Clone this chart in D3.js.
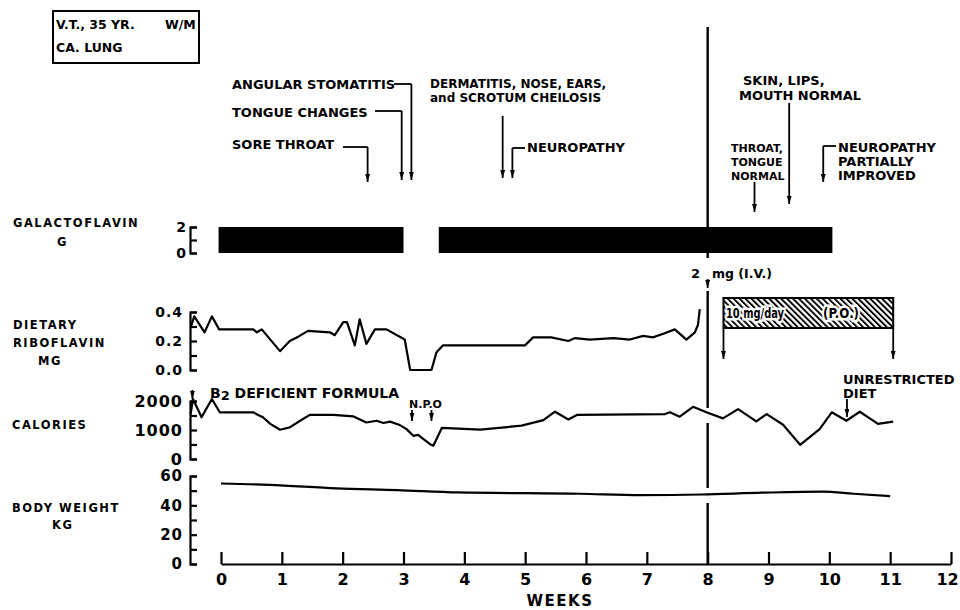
<!DOCTYPE html>
<html>
<head>
<meta charset="utf-8">
<script src="https://cdn.jsdelivr.net/npm/d3@7"></script>
<style>
  body { margin: 0; background: #fff; }
  svg text { font-family: "DejaVu Sans", sans-serif; font-weight: bold; fill: #000; }
</style>
</head>
<body>
<svg id="chart"></svg>
<script>
// week axis
const weekTicks = [0, 1, 2, 3, 4, 5, 6, 7, 8, 9, 10, 11, 12];
const weekLabels = ["0", "1", "2", "3", "4", "5", "6", "7", "8", "9", "10", "11", "12"];

// galactoflavin, g/day
const galStart = [-0.04, 3.58];
const galEnd = [3.00, 10.05];
const galDose = [2, 2];

// dietary riboflavin, mg
const riboWeeks = [-0.50, -0.44, -0.27, -0.15, -0.03, 0.53, 0.59, 0.67, 0.97, 1.13,
  1.27, 1.43, 1.79, 1.87, 2.01, 2.07, 2.20, 2.28, 2.39, 2.53,
  2.72, 3.02, 3.11, 3.46, 3.54, 3.65, 4.26, 5.00, 5.13, 5.43,
  5.71, 5.82, 6.06, 6.45, 6.72, 6.94, 7.10, 7.27, 7.46, 7.65,
  7.79, 7.84, 7.87];
const riboMg = [0.29, 0.37, 0.26, 0.37, 0.28, 0.28, 0.26, 0.28, 0.13, 0.20,
  0.23, 0.27, 0.26, 0.24, 0.33, 0.33, 0.17, 0.35, 0.18, 0.28,
  0.28, 0.21, 0.00, 0.00, 0.12, 0.17, 0.17, 0.17, 0.225, 0.225,
  0.20, 0.22, 0.21, 0.22, 0.21, 0.235, 0.225, 0.25, 0.28, 0.21,
  0.26, 0.31, 0.42];

// calories
const calWeeks = [-0.50, -0.46, -0.32, -0.15, -0.02, 0.53, 0.61, 0.69, 0.81, 0.97,
  1.13, 1.30, 1.46, 1.85, 2.17, 2.39, 2.56, 2.67, 2.78, 2.94,
  3.05, 3.16, 3.24, 3.43, 3.49, 3.63, 4.26, 4.94, 5.30, 5.49,
  5.71, 5.85, 7.30, 7.38, 7.54, 7.76, 7.98, 8.25, 8.50, 8.80,
  8.97, 9.24, 9.52, 9.84, 10.04, 10.28, 10.50, 10.80, 11.05];
const calKcal = [1550, 2070, 1440, 2070, 1610, 1610, 1520, 1440, 1210, 1010,
  1090, 1320, 1520, 1520, 1470, 1260, 1320, 1240, 1290, 1170,
  1030, 800, 830, 520, 460, 1070, 1010, 1150, 1340, 1630,
  1360, 1520, 1550, 1610, 1460, 1800, 1610, 1400, 1720, 1300,
  1550, 1180, 490, 1030, 1610, 1320, 1630, 1210, 1290];

// body weight, kg
const wtWeeks = [0, 0.8, 1.9, 2.9, 3.9, 5.9, 6.9, 7.9, 8.9, 9.9, 10.4, 11.0];
const wtKg = [54.9, 54.0, 51.6, 50.4, 48.8, 47.9, 47.0, 47.4, 48.6, 49.3, 47.9, 46.3];

// clinical events
const eventNames = ["SORE THROAT", "TONGUE CHANGES", "ANGULAR STOMATITIS",
  "DERMATITIS, NOSE, EARS,|and SCROTUM CHEILOSIS", "NEUROPATHY",
  "THROAT,|TONGUE|NORMAL", "SKIN, LIPS,|MOUTH NORMAL", "NEUROPATHY|PARTIALLY|IMPROVED"];
const eventWeeks = [2.41, 2.97, 3.13, 4.63, 4.79, 8.77, 9.34, 9.90];

const ivWeek = 8;
const oralStart = 8.26, oralEnd = 11.05;
const formulaStart = -0.47;
const npoWeeks = [3.14, 3.46];
const dietWeek = 10.29;

const panelLabels = [["GALACTOFLAVIN", "G"], ["DIETARY", "RIBOFLAVIN", "MG"], ["CALORIES"], ["BODY WEIGHT", "KG"]];

const width = 960, height = 610;
const svg = d3.select('#chart')
  .attr('width', width)
  .attr('height', height)
  .style('background-color', '#fff');

const defs = svg.append('defs');
defs.append('marker')
  .attr('id', 'ah')
  .attr('viewBox', '0 0 10 6')
  .attr('refX', 10).attr('refY', 3)
  .attr('markerWidth', 8).attr('markerHeight', 5)
  .attr('markerUnits', 'userSpaceOnUse')
  .attr('orient', 'auto')
  .append('path').attr('d', 'M0,0L10,3L0,6z').attr('fill', '#000');

defs.append('pattern')
  .attr('id', 'hatch')
  .attr('width', 4.2).attr('height', 4.2)
  .attr('patternUnits', 'userSpaceOnUse')
  .attr('patternTransform', 'rotate(-45)')
  .append('rect')
  .attr('x', 0).attr('y', 0).attr('width', 1.9).attr('height', 4.2)
  .attr('fill', '#000');

const x = d3.scaleLinear().domain([0, 12]).range([221, 951]);
const yGal = d3.scaleLinear().domain([0, 2]).range([253, 227]);
const yRibo = d3.scaleLinear().domain([0, 0.4]).range([370, 312]);
const yCal = d3.scaleLinear().domain([0, 2000]).range([459, 401]);
const yWt = d3.scaleLinear().domain([0, 60]).range([564, 476]);

// bracket style y axes
function bracket(scale, ticks, labelled, fmt, size, pad) {
  const g = svg.append('g')
    .attr('transform', 'translate(190,0)')
    .call(d3.axisLeft(scale)
      .tickValues(ticks)
      .tickSizeInner(-7)
      .tickSizeOuter(-7)
      .tickPadding(pad)
      .tickFormat(d => labelled.indexOf(d) >= 0 ? fmt(d) : ''));
  g.attr('font-family', null);
  g.select('.domain').attr('stroke-width', 2.2);
  g.selectAll('.tick line').attr('stroke-width', 2.2);
  g.selectAll('.tick text').attr('font-size', size).attr('letter-spacing', 1);
  return g;
}

bracket(yGal, [0, 1, 2], [0, 2], d3.format('d'), 14, 3);
bracket(yRibo, [0, 0.1, 0.2, 0.3, 0.4], [0, 0.2, 0.4], d3.format('.1f'), 14, 7);
bracket(yCal, [0, 500, 1000, 1500, 2000], [0, 1000, 2000], d3.format('d'), 16, 7);
bracket(yWt, [0, 10, 20, 30, 40, 50, 60], [0, 20, 40, 60], d3.format('d'), 15, 7);

// week axis
const xAxis = svg.append('g')
  .attr('transform', 'translate(0,564)')
  .call(d3.axisBottom(x)
    .tickValues(weekTicks)
    .tickSizeInner(-12)
    .tickSizeOuter(0)
    .tickPadding(10)
    .tickFormat((d, i) => weekLabels[i]));
xAxis.attr('font-family', null);
xAxis.select('.domain').attr('stroke-width', 2.2);
xAxis.selectAll('.tick line').attr('stroke-width', 2.2);
xAxis.selectAll('.tick text').attr('font-size', 16)
  .attr('dx', d => d === 12 ? -4 : 0);

svg.append('text')
  .attr('x', 560).attr('y', 606)
  .attr('text-anchor', 'middle')
  .attr('font-size', 15).attr('letter-spacing', 1.5)
  .text('WEEKS');

// panel labels
const labelPos = [[[13, 227], [57, 246]], [[13, 329], [13, 347], [38, 365]], [[12, 429]], [[12, 512], [52, 529]]];
panelLabels.forEach((lines, i) => {
  lines.forEach((t, j) => {
    svg.append('text')
      .attr('x', labelPos[i][j][0]).attr('y', labelPos[i][j][1])
      .attr('font-size', 11.5).attr('letter-spacing', 1.5)
      .text(t);
  });
});

// patient box
svg.append('rect')
  .attr('x', 53).attr('y', 11).attr('width', 146).attr('height', 52)
  .attr('fill', 'none').attr('stroke', '#000').attr('stroke-width', 2);
svg.append('text').attr('x', 56).attr('y', 29).attr('font-size', 12.5).text('V.T., 35 YR.');
svg.append('text').attr('x', 165).attr('y', 29).attr('font-size', 12.5).text('W/M');
svg.append('text').attr('x', 56).attr('y', 52).attr('font-size', 12.5).text('CA. LUNG');

// galactoflavin bars
svg.selectAll('.gal')
  .data(galStart.map((s, i) => ({ s, e: galEnd[i], v: galDose[i] })))
  .join('rect')
  .attr('class', 'gal')
  .attr('x', d => x(d.s))
  .attr('width', d => x(d.e) - x(d.s))
  .attr('y', d => yGal(d.v))
  .attr('height', d => yGal(0) - yGal(d.v))
  .attr('fill', '#000');

// series lines
function series(xs, ys, yScale, curve) {
  const pts = xs.map((w, i) => [w, ys[i]]);
  svg.append('path')
    .datum(pts)
    .attr('fill', 'none')
    .attr('stroke', '#000')
    .attr('stroke-width', 2.2)
    .attr('stroke-linejoin', 'round')
    .attr('d', d3.line().x(d => x(d[0])).y(d => yScale(d[1])).curve(curve));
}
series(riboWeeks, riboMg, yRibo, d3.curveLinear);
series(calWeeks, calKcal, yCal, d3.curveLinear);
series(wtWeeks, wtKg, yWt, d3.curveMonotoneX);

// helpers for annotations
function seg(x1, y1, x2, y2, arrow) {
  const l = svg.append('line')
    .attr('x1', x1).attr('y1', y1).attr('x2', x2).attr('y2', y2)
    .attr('stroke', '#000').attr('stroke-width', 1.8);
  if (arrow) l.attr('marker-end', 'url(#ah)');
  return l;
}
function label(tx, ty, str, size, lh) {
  str.split('|').forEach((t, i) => {
    svg.append('text')
      .attr('x', tx).attr('y', ty + i * lh)
      .attr('font-size', size)
      .text(t);
  });
}

// week 8 IV dose line (broken where curves cross)
const xiv = x(ivWeek);
[[27, 258], [291, 408], [423, 488], [503, 564]].forEach(r => seg(xiv, r[0], xiv, r[1]).attr('stroke-width', 2.4));
seg(xiv, 279, xiv, 288, true);
svg.append('text').attr('x', 691).attr('y', 278).attr('font-size', 13).text('2');
svg.append('text').attr('x', 712).attr('y', 278).attr('font-size', 12.5).text('mg (I.V.)');

// early symptoms
label(232, 149, eventNames[0], 13, 0);
seg(343, 147, x(eventWeeks[0]), 147);
seg(x(eventWeeks[0]), 147, x(eventWeeks[0]), 182, true);

label(232, 117, eventNames[1], 13, 0);
seg(375, 111, x(eventWeeks[1]), 111);
seg(x(eventWeeks[1]), 111, x(eventWeeks[1]), 180, true);

label(232, 89, eventNames[2], 13, 0);
seg(394, 84, x(eventWeeks[2]), 84);
seg(x(eventWeeks[2]), 84, x(eventWeeks[2]), 180, true);

label(430, 88, eventNames[3], 12, 14);
seg(x(eventWeeks[3]), 116, x(eventWeeks[3]), 178, true);

label(527, 152, eventNames[4], 13, 0);
seg(525, 148, x(eventWeeks[4]), 148);
seg(x(eventWeeks[4]), 148, x(eventWeeks[4]), 178, true);

// recovery
label(731, 152, eventNames[5], 11, 14);
seg(x(eventWeeks[5]), 182, x(eventWeeks[5]), 212, true);

label(743, 85, eventNames[6].split('|')[0], 13, 0);
label(739, 100, eventNames[6].split('|')[1], 13, 0);
seg(x(eventWeeks[6]), 103, x(eventWeeks[6]), 204, true);

label(838, 152, eventNames[7], 13, 14);
seg(836, 146, x(eventWeeks[7]), 146);
seg(x(eventWeeks[7]), 146, x(eventWeeks[7]), 182, true);

// oral riboflavin box
const ox0 = x(oralStart), ox1 = x(oralEnd);
svg.append('rect')
  .attr('x', ox0).attr('y', 298).attr('width', ox1 - ox0).attr('height', 30)
  .attr('fill', 'url(#hatch)').attr('stroke', '#000').attr('stroke-width', 2);
svg.append('text')
  .attr('x', 726).attr('y', 318).attr('font-size', 14)
  .attr('textLength', 58).attr('lengthAdjust', 'spacingAndGlyphs')
  .attr('stroke', '#fff').attr('stroke-width', 5).attr('paint-order', 'stroke')
  .text('10 mg/day');
svg.append('text')
  .attr('x', 823).attr('y', 318).attr('font-size', 14)
  .attr('textLength', 36).attr('lengthAdjust', 'spacingAndGlyphs')
  .attr('stroke', '#fff').attr('stroke-width', 5).attr('paint-order', 'stroke')
  .text('(P.O.)');
seg(ox0, 328, ox0, 359, true);
seg(ox1, 328, ox1, 359, true);

// diet notes
svg.append('text').attr('x', 210).attr('y', 398).attr('font-size', 14)
  .call(t => {
    t.append('tspan').text('B');
    t.append('tspan').attr('dy', 2).attr('font-size', 13).text('2');
    t.append('tspan').attr('dy', -2).text(' DEFICIENT FORMULA');
  });
seg(x(formulaStart), 390, x(formulaStart), 399, true);

svg.append('text').attr('x', 409).attr('y', 408).attr('font-size', 11).text('N.P.O');
npoWeeks.forEach(w => seg(x(w), 410, x(w), 421, true));

label(843, 384, 'UNRESTRICTED|DIET', 13, 13.5);
seg(x(dietWeek), 399, x(dietWeek), 417, true);
</script>
</body>
</html>
